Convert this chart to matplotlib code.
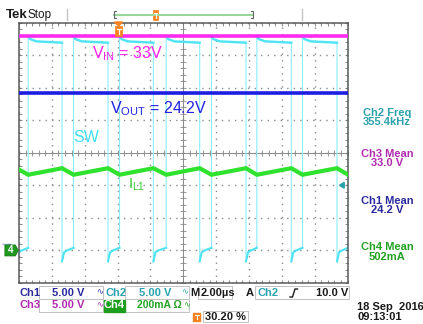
import numpy as np
import matplotlib
matplotlib.use("Agg")
import matplotlib.pyplot as plt
from matplotlib.lines import Line2D
from matplotlib.patches import Rectangle, Polygon
from matplotlib.ticker import MultipleLocator
from matplotlib.transforms import Affine2D

plt.rcParams["font.family"] = ["Liberation Sans", "DejaVu Sans"]
plt.rcParams["mathtext.fontset"] = "custom"
plt.rcParams["mathtext.rm"] = "Liberation Sans"

W, H = 423, 324

# scope palette
PINK = "#ff2af0"
BLUE = "#1e1ee0"
CYAN = "#4fe4f4"
CYAN_EDGE = "#8aeefa"
GREEN = "#2ee22e"
ORANGE = "#f5821f"
GRID = "#8c8c8c"
FRAME = "#5a5a5a"
CH1_TXT = "#2a2a9e"
CH2_TXT = "#2aa2ac"
CH3_TXT = "#b02ab0"
CH4_TXT = "#22a222"
INK = "#1a1a1a"

# ── scope settings ──────────────────────────────────────────────────────────
time_per_div_us = 2.0
volts_per_div = 5.0
ma_per_div = 200.0
ground_div = -3.0
trig_level_v = 10.0
trig_pos_us = 6.06
trig_pct = 30.20

vin_v = 33.0
vout_v = 24.2

sw_rise_us = [0.56, 3.32, 6.12, 8.96, 11.72, 14.48, 17.26, 20.04]
sw_fall_us = [-0.14, 2.62, 5.42, 8.18, 11.00, 13.82, 16.58, 19.36]
sw_overshoot_v = 32.9
sw_high_v = 32.1
sw_high_end_v = 31.9
sw_dip_v = -1.7
sw_low_v = 0.0
sw_low_end_v = 0.4

il_peak_ma = 505
il_valley_ma = 465

readout_titles = ["Ch2 Freq", "Ch3 Mean", "Ch1 Mean", "Ch4 Mean"]
readout_values = ["355.4kHz", "33.0 V", "24.2 V", "502mA"]
readout_colors = [CH2_TXT, CH3_TXT, CH1_TXT, CH4_TXT]


def v2div(v):
    return ground_div + v / volts_per_div


def ma2div(ma):
    return ground_div + ma / ma_per_div


def sw_trace():
    t, v = [], []
    events = sorted([(x, 0) for x in sw_fall_us] + [(x, 1) for x in sw_rise_us])
    for te, rising in events:
        if rising:
            t += [te, te, te + 0.12, te + 0.5]
            v += [sw_low_end_v, sw_overshoot_v, sw_high_v + 0.35, sw_high_v]
        else:
            t += [te, te, te + 0.12, te + 0.3]
            v += [sw_high_end_v, sw_dip_v, sw_low_v - 0.3, sw_low_v]
    return np.array(t), np.array(v)


def il_trace():
    events = sorted([(x, il_peak_ma) for x in sw_fall_us] +
                    [(x, il_valley_ma) for x in sw_rise_us])
    return np.array([e[0] for e in events]), np.array([e[1] for e in events])


fig = plt.figure(figsize=(W / 100, H / 100), dpi=100)
fig.patch.set_facecolor("white")
pxT = Affine2D().scale(1 / W, -1 / H).translate(0, 1) + fig.transFigure

L, R, T, B = 19, 347.5, 22.5, 283
ax = fig.add_axes([L / W, 1 - B / H, (R - L) / W, (B - T) / H])
ax.set_xlim(0, 10 * time_per_div_us)
ax.set_ylim(-4, 4)
ax.set_facecolor("white")

# graticule
ax.xaxis.set_major_locator(MultipleLocator(time_per_div_us))
ax.xaxis.set_minor_locator(MultipleLocator(time_per_div_us / 5))
ax.yaxis.set_major_locator(MultipleLocator(1))
ax.yaxis.set_minor_locator(MultipleLocator(0.2))
ax.tick_params(which="both", direction="in", length=2.5, width=0.6, color="#777777",
               top=True, right=True, labelbottom=False, labelleft=False)
ax.grid(which="major", color=GRID, linestyle=(0, (1.0, 3.7)), lw=1.0)
for s in ax.spines.values():
    s.set_color(FRAME)
    s.set_linewidth(1.1)
ax.axhline(0, color="#8a8a8a", lw=0.7, zorder=1)
ax.axvline(5 * time_per_div_us, color="#8a8a8a", lw=0.7, zorder=1)
xt = np.arange(0, 10 * time_per_div_us + 0.01, time_per_div_us / 5)
yt = np.arange(-4, 4.01, 0.2)
ax.plot(xt, np.zeros_like(xt), ls="none", marker="|", ms=4, mew=0.6, color="#8a8a8a", zorder=1)
ax.plot(np.full_like(yt, 5 * time_per_div_us), yt, ls="none", marker="_", ms=4, mew=0.6,
        color="#8a8a8a", zorder=1)

# Ch2 switch node
ts, vs = sw_trace()
ax.plot(ts, v2div(vs), color=CYAN_EDGE, lw=0.8, zorder=2)
ax.plot(ts, v2div(np.where(vs > 20, vs, np.nan)), color=CYAN, lw=1.7, zorder=2)
ax.plot(ts, v2div(np.where(vs < 10, vs, np.nan)), color=CYAN, lw=1.5, zorder=2)

# Ch3 input, Ch1 output, Ch4 inductor current
ax.axhline(v2div(vin_v), color=PINK, lw=2.6, zorder=3)
ax.axhline(v2div(vout_v), color=BLUE, lw=2.6, zorder=3)
ti, ii = il_trace()
ax.plot(ti, ma2div(ii), color=GREEN, lw=3.0, zorder=3, solid_joinstyle="miter")

# trace annotations
ax.text(4.44, 2.89, r"V$_{\rm IN}$ = 33V", color="#ff22ee", fontsize=11.5, va="baseline")
ax.text(5.54, 1.22, r"V$_{\rm OUT}$ = 24.2V", color="#2222e6", fontsize=11.5, va="baseline")
ax.text(3.29, 0.34, "SW", color="#3ae0f0", fontsize=11.5, va="baseline")
ax.text(6.63, -1.08, r"I$_{\rm L1}$", color="#33cc33", fontsize=10.5, va="baseline")

# trigger level arrow (right edge) and Ch4 ground marker (left edge)
yT = ax.get_yaxis_transform()
ty = v2div(trig_level_v)
ax.add_patch(Polygon([(0.976, ty), (0.99, ty + 0.09), (0.99, ty - 0.09)], closed=True,
                     color=CH2_TXT, transform=yT, clip_on=False, zorder=5))
gy = v2div(0)
ax.add_patch(Polygon([(-0.051, gy + 0.19), (-0.028, gy + 0.19), (-0.018, gy + 0.04),
                      (-0.028, gy + 0.21)], closed=False, fill=False, ec="#8a8ad8", lw=0.6,
                     transform=yT, clip_on=False, zorder=4))
ax.add_patch(Polygon([(-0.043, gy + 0.17), (-0.011, gy + 0.17), (-0.002, gy),
                      (-0.011, gy - 0.17), (-0.043, gy - 0.17)], closed=True,
                     fc="#1f9a1f", ec="#137013", lw=0.5, transform=yT, clip_on=False, zorder=5))
ax.text(-0.026, gy, "4", color="white", fontsize=7, fontweight="bold", ha="center",
        va="center", transform=yT, zorder=6)

# ── header ─────────────────────────────────────────────────────────────────
fig.text(6, 15, "Tek", transform=pxT, fontsize=9.5, fontweight="bold", color=INK, va="center")
fig.text(28, 15, "Stop", transform=pxT, fontsize=8.5, color=INK, va="center")
for x in (67, 302):
    fig.add_artist(Line2D([x, x], [9, 20], transform=pxT, color="#c4c4c4", lw=1))
rb0, rb1 = 114, 253
fig.add_artist(Line2D([rb0, rb1], [14.5, 14.5], transform=pxT, color="#98d898", lw=1.5))
fig.add_artist(Line2D([rb0 + 2, rb0, rb0, rb0 + 2], [11, 11, 18, 18], transform=pxT,
                      color="#666666", lw=0.8))
fig.add_artist(Line2D([rb1 - 2, rb1, rb1, rb1 - 2], [11, 11, 18, 18], transform=pxT,
                      color="#666666", lw=0.8))
tx = rb0 + (rb1 - rb0) * trig_pct / 100
fig.add_artist(Rectangle((tx - 2.5, 10), 5, 9.5, transform=pxT, fc=ORANGE, ec=ORANGE, lw=0.5))
fig.add_artist(Line2D([tx - 1.5, tx + 1.5, tx, tx], [12.5, 12.5, 12.5, 17.5], transform=pxT,
                      color="white", lw=0.8))

# trigger position marker on top of the graticule
mx = L + (R - L) * trig_pos_us / (10 * time_per_div_us)
fig.add_artist(Polygon([(mx - 4, 22), (mx + 4, 22), (mx, 26)], closed=True, transform=pxT,
                       color=ORANGE, zorder=6))
fig.add_artist(Rectangle((mx - 3.5, 26), 7, 9.5, transform=pxT, fc=ORANGE, ec=ORANGE,
                         lw=0.5, zorder=6))
fig.add_artist(Line2D([mx - 2, mx + 2, mx, mx], [28.5, 28.5, 28.5, 33.5], transform=pxT,
                      color="white", lw=0.9, zorder=7))

# ── right-hand measurement readouts ─────────────────────────────────────────
title_y = [112.5, 154, 200.5, 247]
for title, val, col, y in zip(readout_titles, readout_values, readout_colors, title_y):
    fig.text(387, y, title, transform=pxT, color=col, fontsize=8, fontweight="bold",
             ha="center", va="center")
    fig.text(387, y + 9.5, val, transform=pxT, color=col, fontsize=8, fontweight="bold",
             ha="center", va="center")

# ── bottom status bar ──────────────────────────────────────────────────────
BOX = "#c2c2c2"
for (x, y, w, h) in [(39, 286, 64, 13), (39, 299, 64, 13), (125, 286, 64, 13),
                     (125, 299, 64, 13), (198, 286, 34, 13), (255, 286, 94, 13),
                     (203, 311, 45, 11)]:
    fig.add_artist(Rectangle((x, y), w, h, transform=pxT, fc="white", ec=BOX, lw=0.7))
fig.add_artist(Rectangle((104, 299.5), 21, 12, transform=pxT, fc="#1e9e1e", ec="#1e9e1e"))
fig.add_artist(Rectangle((193, 312.5), 7, 8, transform=pxT, fc=ORANGE, ec=ORANGE))
fig.add_artist(Line2D([194.5, 198.5, 196.5, 196.5], [314.5, 314.5, 314.5, 319], transform=pxT,
                      color="white", lw=0.8))

fs = 8
r1, r2, r3 = 292.5, 305.5, 316.5
kw = dict(transform=pxT, fontsize=fs, fontweight="bold", va="center")
bw = dict(transform=pxT, fontsize=6, va="center")
fig.text(19, r1, "Ch1", color=CH1_TXT, **kw)
fig.text(84, r1, "5.00 V", color=CH1_TXT, ha="right", **kw)
fig.text(96, r1, "∿", color=CH1_TXT, **bw)
fig.text(105, r1, "Ch2", color=CH2_TXT, **kw)
fig.text(171, r1, "5.00 V", color=CH2_TXT, ha="right", **kw)
fig.text(181, r1, "∿", color=CH2_TXT, **bw)
fig.text(190, r1, "M", color=INK, **kw)
fig.text(201, r1, "2.00µs", color=INK, **kw)
fig.text(250, r1, "A", color=INK, ha="center", **kw)
fig.text(258, r1, "Ch2", color=CH2_TXT, **kw)
fig.add_artist(Line2D([290, 292.5, 295, 297.5], [297, 297, 289, 289], transform=pxT,
                      color=INK, lw=1.0))
fig.text(348, r1, "10.0 V", color=INK, ha="right", **kw)

fig.text(19, r2, "Ch3", color=CH3_TXT, **kw)
fig.text(84, r2, "5.00 V", color=CH3_TXT, ha="right", **kw)
fig.text(96, r2, "∿", color=CH3_TXT, **bw)
fig.text(114.5, r2, "Ch4", color="white", ha="center", **kw)
fig.text(137, r2, "200mA Ω", color=CH4_TXT, transform=pxT, fontsize=7.5, fontweight="bold",
         va="center")
fig.text(183.5, r2, "∿", color=CH4_TXT, **bw)

fig.text(205, r3, "30.20 %", color=INK, **kw)
fig.text(357, 307.5, "18 Sep  2016", color=INK, **kw)
fig.text(357, 317, "09:13:01", color=INK, **kw)

fig.savefig("out.png", dpi=100, facecolor="white")
